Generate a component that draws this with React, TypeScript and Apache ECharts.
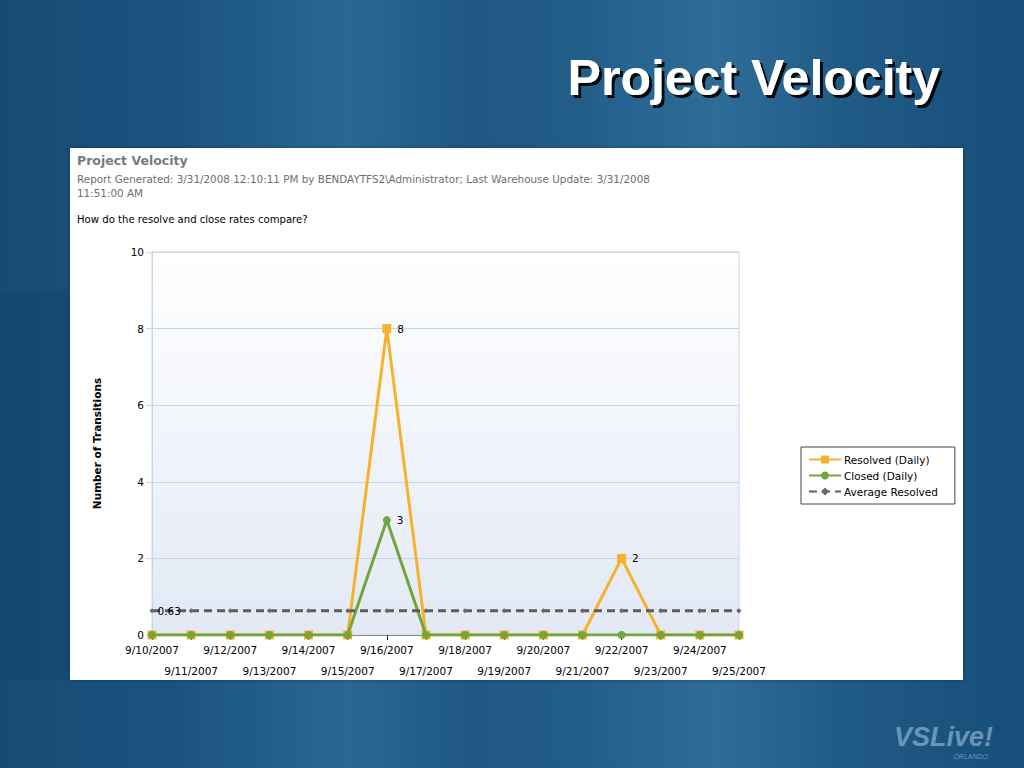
import React, { useEffect, useRef } from "react";
import * as echarts from "echarts";

const categories = [
  "9/10/2007", "9/11/2007", "9/12/2007", "9/13/2007", "9/14/2007", "9/15/2007",
  "9/16/2007", "9/17/2007", "9/18/2007", "9/19/2007", "9/20/2007", "9/21/2007",
  "9/22/2007", "9/23/2007", "9/24/2007", "9/25/2007",
];
const resolvedDaily = [0, 0, 0, 0, 0, 0, 8, 0, 0, 0, 0, 0, 2, 0, 0, 0];
const closedDaily = [0, 0, 0, 0, 0, 0, 3, 0, 0, 0, 0, 0, 0, 0, 0, 0];
const averageResolved = [0.63, 0.63, 0.63, 0.63, 0.63, 0.63, 0.63, 0.63, 0.63, 0.63, 0.63, 0.63, 0.63, 0.63, 0.63, 0.63];
const yTicks = { min: 0, max: 10, interval: 2 };

const FONT = "DejaVu Sans";

export default function App() {
  const ref = useRef<HTMLDivElement>(null);
  useEffect(() => {
    if (!ref.current) return;
    const chart = echarts.init(ref.current, undefined, { renderer: "svg" });
    chart.setOption({
      animation: false,
      textStyle: { fontFamily: FONT },
      graphic: [
        {
          type: "rect",
          silent: true,
          z: -10,
          shape: { x: 0, y: 290, width: 70, height: 390 },
          style: { fill: "rgba(10,40,70,0.1)" },
        },
        {
          type: "rect",
          z: -5,
          shape: { x: 70, y: 148, width: 893, height: 532 },
          style: { fill: "#ffffff", shadowColor: "rgba(0,0,0,0.3)", shadowBlur: 4 },
        },
        {
          type: "text",
          x: 940,
          y: 78,
          style: {
            text: "Project Velocity",
            fill: "#ffffff",
            font: "bold 50px 'Liberation Sans', Arial, sans-serif",
            align: "right",
            verticalAlign: "middle",
            textShadowColor: "rgba(0,0,0,0.9)",
            textShadowOffsetX: 3,
            textShadowOffsetY: 3,
            textShadowBlur: 1,
          },
        },
        {
          type: "text",
          x: 77,
          y: 160,
          style: {
            text: "Project Velocity",
            fill: "#7a7a7a",
            font: `bold 12.5px '${FONT}'`,
            verticalAlign: "middle",
          },
        },
        {
          type: "text",
          x: 77,
          y: 179,
          style: {
            text: "Report Generated: 3/31/2008 12:10:11 PM by BENDAYTFS2\\Administrator; Last Warehouse Update: 3/31/2008",
            fill: "#6e6e6e",
            font: `10.4px '${FONT}'`,
            verticalAlign: "middle",
          },
        },
        {
          type: "text",
          x: 77,
          y: 193,
          style: {
            text: "11:51:00 AM",
            fill: "#6e6e6e",
            font: `10.4px '${FONT}'`,
            verticalAlign: "middle",
          },
        },
        {
          type: "text",
          x: 77,
          y: 219,
          style: {
            text: "How do the resolve and close rates compare?",
            fill: "#000000",
            font: `10.1px '${FONT}'`,
            verticalAlign: "middle",
          },
        },
        {
          type: "text",
          x: 993,
          y: 737,
          style: {
            text: "VSLive!",
            fill: "rgba(160,195,222,0.6)",
            font: "italic bold 27px 'Liberation Sans', Arial, sans-serif",
            align: "right",
            verticalAlign: "middle",
          },
        },
        {
          type: "text",
          x: 988,
          y: 756,
          style: {
            text: "ORLANDO",
            fill: "rgba(160,195,222,0.6)",
            font: "italic 7px 'Liberation Sans', Arial, sans-serif",
            align: "right",
            verticalAlign: "middle",
          },
        },
      ],
      grid: {
        left: 152,
        top: 252,
        width: 587,
        height: 383,
        show: true,
        borderColor: "#c5d6e8",
        borderWidth: 1,
        backgroundColor: new echarts.graphic.LinearGradient(0, 0, 0, 1, [
          { offset: 0, color: "#ffffff" },
          { offset: 1, color: "#e2e9f5" },
        ]),
      },
      legend: {
        orient: "vertical",
        left: 801,
        top: 447,
        padding: [7, 17, 7, 7],
        itemWidth: 32,
        itemHeight: 10,
        itemGap: 5,
        borderColor: "#444",
        borderWidth: 1,
        borderRadius: 0,
        backgroundColor: "#ffffff",
        textStyle: { fontFamily: FONT, fontSize: 10.5, color: "#000", padding: [0, 0, 0, -2] },
        data: ["Resolved (Daily)", "Closed (Daily)", "Average Resolved"],
      },
      xAxis: {
        type: "category",
        boundaryGap: false,
        data: categories,
        axisLine: { show: true, lineStyle: { color: "#8a8a8a" } },
        axisTick: { show: true, interval: 0, length: 5, lineStyle: { color: "#222" } },
        axisLabel: {
          interval: 0,
          margin: 4,
          fontFamily: FONT,
          fontSize: 10.5,
          color: "#000",
          lineHeight: 21,
          formatter: (v: string, i: number) => (i % 2 === 1 ? "\n" + v : v),
        },
        splitLine: { show: false },
      },
      yAxis: {
        type: "value",
        min: yTicks.min,
        max: yTicks.max,
        interval: yTicks.interval,
        name: "Number of Transitions",
        nameLocation: "middle",
        nameRotate: 90,
        nameGap: 50,
        nameTextStyle: { fontFamily: FONT, fontSize: 10.5, fontWeight: "bold", color: "#000" },
        axisLine: { show: true, lineStyle: { color: "#c5d6e8" } },
        axisTick: { show: true, length: 6, lineStyle: { color: "#c5d6e8" } },
        axisLabel: { fontFamily: FONT, fontSize: 10.5, color: "#000", margin: 8 },
        splitLine: { show: true, lineStyle: { color: "#c5d6e8", width: 1 } },
      },
      series: [
        {
          name: "Resolved (Daily)",
          type: "line",
          data: resolvedDaily,
          symbol: "rect",
          symbolSize: 9,
          color: "#f8b12c",
          lineStyle: { width: 3, color: "#f8b12c" },
          itemStyle: { color: "#f8b12c" },
          label: {
            show: true,
            position: "right",
            distance: 6,
            fontFamily: FONT,
            fontSize: 10.5,
            color: "#000",
            formatter: (p: any) => (p.value > 0 ? String(p.value) : ""),
          },
          z: 3,
        },
        {
          name: "Closed (Daily)",
          type: "line",
          data: closedDaily,
          symbol: "circle",
          symbolSize: 8,
          color: "#72a53c",
          lineStyle: { width: 3, color: "#72a53c" },
          itemStyle: { color: "#72a53c" },
          label: {
            show: true,
            position: "right",
            distance: 6,
            fontFamily: FONT,
            fontSize: 10.5,
            color: "#000",
            formatter: (p: any) => (p.value > 0 ? String(p.value) : ""),
          },
          z: 4,
        },
        {
          name: "Average Resolved",
          type: "line",
          data: averageResolved,
          symbol: "diamond",
          symbolSize: 5,
          color: "#5c5c5c",
          lineStyle: { width: 3, color: "#5c5c5c", type: [8, 5] },
          itemStyle: { color: "#6a6a6a" },
          label: {
            show: true,
            position: "right",
            distance: 3,
            fontFamily: FONT,
            fontSize: 10.5,
            color: "#000",
            formatter: (p: any) => (p.dataIndex === 0 ? String(p.value) : ""),
          },
          z: 5,
        },
      ],
    });
    return () => chart.dispose();
  }, []);
  return (
    <div
      ref={ref}
      style={{
        position: "fixed",
        left: 0,
        top: 0,
        width: 1024,
        height: 768,
        background:
          "linear-gradient(90deg, #174b74 0%, #1b5480 18%, #2a6892 34%, #1e5883 46%, #225d88 56%, #2e6d98 70%, #205b86 82%, #174e7a 100%)",
      }}
    />
  );
}
